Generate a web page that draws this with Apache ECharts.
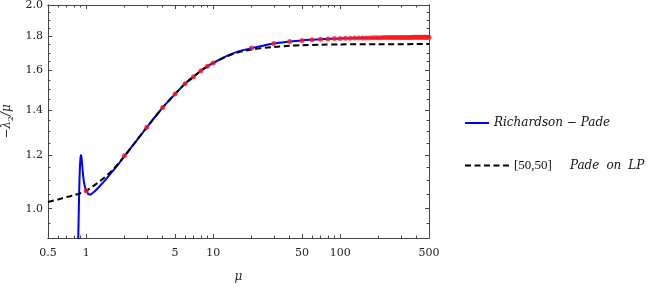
<!DOCTYPE html>
<html><head><meta charset="utf-8">
<script src="https://cdn.jsdelivr.net/npm/echarts@6/dist/echarts.min.js"></script>
<style>html,body{margin:0;padding:0;background:#fff}#c{width:654px;height:291px}</style>
</head><body><div id="c"></div>
<script>
// ---- axis ticks / labels ----
const xLabelValues = [0.5, 1, 5, 10, 50, 100, 500];
const xMinorTicks = [0.6, 0.7, 0.8, 0.9, 2, 3, 4, 6, 7, 8, 9, 20, 30, 40, 60, 70, 80, 90, 200, 300, 400];
const yLabelValues = [1.0, 1.2, 1.4, 1.6, 1.8, 2.0];
const yMinorTicks = [0.95, 1.05, 1.1, 1.15, 1.25, 1.3, 1.35, 1.45, 1.5, 1.55, 1.65, 1.7, 1.75, 1.85, 1.9, 1.95];

// ---- Richardson - Pade (blue solid) ----
const blueMu  = [0.86, 0.87, 0.88, 0.89, 0.90, 0.91, 0.92, 0.935, 0.95, 0.97, 1.0, 1.03, 1.06, 1.09, 1.15, 1.25, 1.4, 1.6, 1.8, 2, 2.5, 3, 4, 5, 6, 7, 8, 9, 10, 12, 15, 20, 30, 40, 50, 60, 70, 80, 100, 150, 200, 300, 400, 500];
const blueVal = [0.85, 0.95, 1.06, 1.14, 1.185, 1.2, 1.185, 1.145, 1.11, 1.083, 1.063, 1.053, 1.049, 1.05, 1.058, 1.075, 1.1, 1.134, 1.165, 1.197, 1.262, 1.319, 1.411, 1.477, 1.530, 1.567, 1.599, 1.623, 1.642, 1.672, 1.702, 1.727, 1.755, 1.766, 1.773, 1.777, 1.780, 1.782, 1.785, 1.788, 1.789, 1.791, 1.792, 1.792];

// ---- [50,50] Pade on LP (black dashed) ----
const padeMu  = [0.5, 0.6, 0.7, 0.8, 0.9, 1.0, 1.2, 1.4, 1.6, 1.8, 2, 2.5, 3, 4, 5, 6, 7, 8, 9, 10, 12, 15, 20, 30, 40, 50, 70, 100, 200, 500];
const padeVal = [1.023, 1.032, 1.040, 1.047, 1.054, 1.063, 1.088, 1.113, 1.139, 1.167, 1.195, 1.262, 1.319, 1.411, 1.477, 1.530, 1.567, 1.599, 1.623, 1.641, 1.670, 1.698, 1.719, 1.734, 1.741, 1.744, 1.747, 1.749, 1.750, 1.751];

// ---- red sample points ----
const dotMu = [1, 2, 3, 4, 5, 6, 7, 8, 9, 10, 20, 30, 40, 50, 60, 70, 80, 90, 100, 110, 120, 130, 140, 150, 160, 170, 180, 190, 200, 210, 220, 230, 240, 250, 260, 270, 280, 290, 300, 310, 320, 330, 340, 350, 360, 370, 380, 390, 400, 410, 420, 430, 440, 450, 460, 470, 480, 490, 500];
const dotVal = [1.063, 1.197, 1.319, 1.411, 1.477, 1.530, 1.567, 1.599, 1.623,
  1.642, 1.727, 1.755, 1.766, 1.773, 1.777, 1.780, 1.782, 1.784, 1.785,
  1.786, 1.786, 1.787, 1.787, 1.788, 1.788, 1.788, 1.789, 1.789, 1.789,
  1.789, 1.790, 1.790, 1.790, 1.790, 1.790, 1.790, 1.791, 1.791, 1.791,
  1.791, 1.791, 1.791, 1.791, 1.791, 1.791, 1.792, 1.792, 1.792, 1.792,
  1.792, 1.792, 1.792, 1.792, 1.792, 1.792, 1.792, 1.792, 1.792, 1.792];

const zip = (a, b) => a.map((v, i) => [v, b[i]]);
const FONT = 'DejaVu Serif';
const AX = '#444';

function xAxisDef(pos, ticks, len, showLabel, extra) {
  return Object.assign({
    type: 'log', logBase: 10, min: 0.5, max: 500, position: pos,
    axisLine: { show: true, onZero: false, lineStyle: { color: AX, width: 1 } },
    axisTick: { show: true, inside: true, length: len, customValues: ticks, lineStyle: { color: AX } },
    axisLabel: showLabel ? { show: true, customValues: xLabelValues, margin: 10, color: '#222',
      fontFamily: FONT, fontSize: 11, formatter: v => String(+(+v).toPrecision(3)) } : { show: false },
    splitLine: { show: false }, minorTick: { show: false }
  }, extra || {});
}
function yAxisDef(pos, ticks, len, showLabel, extra) {
  return Object.assign({
    type: 'log', logBase: 10, min: 0.905, max: 2.0, position: pos,
    axisLine: { show: true, onZero: false, lineStyle: { color: AX, width: 1 } },
    axisTick: { show: true, inside: true, length: len, customValues: ticks, lineStyle: { color: AX } },
    axisLabel: showLabel ? { show: true, customValues: yLabelValues, margin: 5, color: '#222',
      fontFamily: FONT, fontSize: 11, formatter: v => (+v).toFixed(1) } : { show: false },
    splitLine: { show: false }, minorTick: { show: false }
  }, extra || {});
}

const chart = echarts.init(document.getElementById('c'), null, { renderer: 'canvas' });
chart.setOption({
  animation: false,
  backgroundColor: '#fff',
  grid: { left: 48, right: 225, top: 5, bottom: 53, containLabel: false, outerBoundsMode: 'none' },
  xAxis: [
    xAxisDef('bottom', xLabelValues, 4, true, {
      name: 'μ', nameLocation: 'middle', nameGap: 33,
      nameTextStyle: { fontFamily: FONT, fontStyle: 'italic', fontSize: 12, color: '#222' }
    }),
    xAxisDef('bottom', xMinorTicks, 2.5, false),
    xAxisDef('top', xLabelValues, 4, false),
    xAxisDef('top', xMinorTicks, 2.5, false)
  ],
  yAxis: [
    yAxisDef('left', yLabelValues, 4, true, {
      name: '{t|−λ}{s|2}{t|/μ}', nameLocation: 'middle', nameGap: 30, nameRotate: 90,
      nameTextStyle: { rich: {
        t: { fontFamily: FONT, fontStyle: 'italic', fontSize: 12, color: '#222' },
        s: { fontFamily: FONT, fontSize: 8, color: '#222', padding: [7, 0, 0, 0] }
      } }
    }),
    yAxisDef('left', yMinorTicks, 2.5, false),
    yAxisDef('right', yLabelValues, 4, false),
    yAxisDef('right', yMinorTicks, 2.5, false)
  ],
  legend: [
    {
      data: ['rp'], left: 459, top: 112, itemWidth: 24, itemHeight: 14,
      itemStyle: { color: 'rgba(0,0,0,0)', borderWidth: 0, opacity: 0 },
      formatter: () => '{i|Richardson − Pade}',
      textStyle: { rich: {
        i: { fontFamily: FONT, fontStyle: 'italic', fontSize: 12, color: '#111' }
      } }
    },
    {
      data: ['pade'], left: 459, top: 154, itemWidth: 44, itemHeight: 14,
      itemStyle: { color: 'rgba(0,0,0,0)', borderWidth: 0, opacity: 0 },
      formatter: () => '{n|[50,50]}{w| }{i|Pade}{h| }{i|on}{h| }{i|LP}',
      textStyle: { rich: {
        w: { width: 18 },
        h: { width: 7 },
        n: { fontFamily: 'Liberation Serif', fontSize: 13, color: '#111' },
        i: { fontFamily: FONT, fontStyle: 'italic', fontSize: 12, color: '#111' }
      } }
    }
  ],
  series: [
    {
      name: 'rp', type: 'line', xAxisIndex: 0, yAxisIndex: 0,
      data: zip(blueMu, blueVal), showSymbol: false, symbol: 'none', smooth: 0.3,
      lineStyle: { color: '#0000ff', width: 2 }, itemStyle: { color: '#0000ff' }, z: 2, clip: true
    },
    {
      name: 'pade', type: 'line', xAxisIndex: 0, yAxisIndex: 0,
      data: zip(padeMu, padeVal), showSymbol: false, symbol: 'none', smooth: 0.3,
      lineStyle: { color: '#000', width: 2, type: [6, 3.5] }, itemStyle: { color: '#000' }, z: 3, clip: true
    },
    {
      name: 'pts', type: 'scatter', xAxisIndex: 0, yAxisIndex: 0,
      data: zip(dotMu, dotVal), symbol: 'circle', symbolSize: 5,
      itemStyle: { color: '#ff1a1a' }, z: 4
    }
  ]
});
</script>
</body></html>
